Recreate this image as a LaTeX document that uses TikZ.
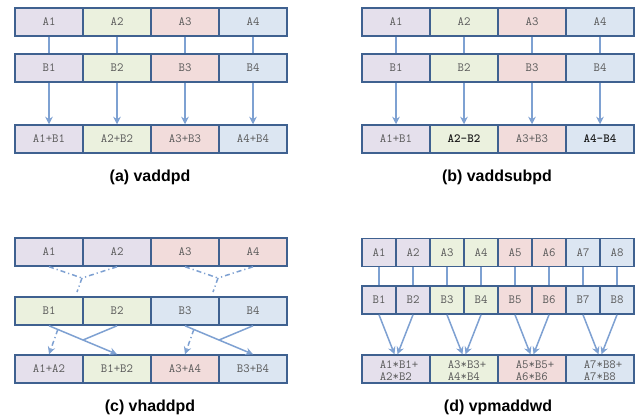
\documentclass[tikz,border=0pt]{standalone}
\usepackage{fontspec}
\newfontfamily\capfont{Liberation Sans}
\usetikzlibrary{arrows.meta,calc}

\definecolor{cellborder}{HTML}{3F6190}
\definecolor{linkblue}{HTML}{7EA1D2}
\definecolor{fillP}{HTML}{E5E0EC}
\definecolor{fillG}{HTML}{EBF1DE}
\definecolor{fillR}{HTML}{F2DCDB}
\definecolor{fillB}{HTML}{DCE6F2}
\definecolor{celltext}{HTML}{595959}
\definecolor{boldtext}{HTML}{1A1A1A}

% two-line product sums, set slightly low and right in their cell
\newcommand\pairtext[2]{\raisebox{-6.25bp}[0pt][0pt]{\hspace*{6bp}{\fontsize{12.5}{11}\selectfont\begin{tabular}{@{}l@{}}#1\\#2\end{tabular}}}}
\newcommand\hl[1]{{\bfseries\color{boldtext}#1}}

\tikzset{
  cell/.style={draw=cellborder, line width=1.5bp, minimum width=68bp,
    minimum height=28bp, inner sep=0pt,
    font=\ttfamily\fontsize{12.5}{14}\selectfont, text=celltext},
  halfcell/.style={cell, minimum width=34bp},
  conn/.style={draw=linkblue, line width=1.5bp},
  arr/.style={conn, -{Stealth[length=7.5bp,width=7.5bp,inset=2.5bp]}},
  dd/.style={conn, dash pattern=on 5bp off 3bp on 1.2bp off 3bp},
  ddarr/.style={dd, -{Stealth[length=7.5bp,width=7.5bp,inset=2.5bp]}},
  caption/.style={font=\capfont\bfseries\fontsize{16}{19}\selectfont, text=black},
}

\begin{document}
\begin{tikzpicture}[x=1bp,y=-1bp]
\fill[white] (0,0) rectangle (637,418);
\useasboundingbox (0,0) rectangle (637,418);

% (a) vaddpd
\foreach \i/\c in {1/fillP,2/fillG,3/fillR,4/fillB} {
  \node[cell, fill=\c] (paA\i) at ({-19+68*\i},22) {A\i};
  \node[cell, fill=\c] (paB\i) at ({-19+68*\i},68) {B\i};
  \node[cell, fill=\c] (paC\i) at ({-19+68*\i},139) {A\i+B\i};
}
\foreach \i in {1,...,4} {
  \draw[conn] (paA\i) -- (paB\i);
  \draw[arr] (paB\i) -- (paC\i);
}
\node[caption] (capa) at (150,177) {(a) vaddpd};

% (b) vaddsubpd
\foreach \i/\c/\t in {1/fillP/{A1+B1},2/fillG/{\hl{A2-B2}},3/fillR/{A3+B3},4/fillB/{\hl{A4-B4}}} {
  \node[cell, fill=\c] (pbA\i) at ({328+68*\i},22) {A\i};
  \node[cell, fill=\c] (pbB\i) at ({328+68*\i},68) {B\i};
  \node[cell, fill=\c] (pbC\i) at ({328+68*\i},139) {\t};
}
\foreach \i in {1,...,4} {
  \draw[conn] (pbA\i) -- (pbB\i);
  \draw[arr] (pbB\i) -- (pbC\i);
}
\node[caption] (capb) at (497,177) {(b) vaddsubpd};

% (c) vhaddpd
\foreach \i/\ca/\cb/\cc/\t in {1/fillP/fillG/fillP/{A1+A2},2/fillP/fillG/fillG/{B1+B2},3/fillR/fillB/fillR/{A3+A4},4/fillR/fillB/fillB/{B3+B4}} {
  \node[cell, fill=\ca] (pcA\i) at ({-19+68*\i},252) {A\i};
  \node[cell, fill=\cb] (pcB\i) at ({-19+68*\i},311) {B\i};
  \node[cell, fill=\cc] (pcC\i) at ({-19+68*\i},369) {\t};
}
% pairs of neighbouring elements merge
\coordinate (pcJ1) at (82,278);
\coordinate (pcK1) at (77,292);
\coordinate (pcJ2) at (218,278);
\coordinate (pcK2) at (213,292);
\draw[dd] (pcA1.south) -- (pcJ1);
\draw[dd] (pcA2.south) -- (pcJ1);
\draw[dd] (pcJ1) -- (pcK1);
\draw[dd] (pcA3.south) -- (pcJ2);
\draw[dd] (pcA4.south) -- (pcJ2);
\draw[dd] (pcJ2) -- (pcK2);
% horizontal sums go to their slots
\draw[arr] (pcB1.south) -- (pcC2.north);
\coordinate (pcX1) at ($(pcB1.south)!0.5!(pcC2.north)$);
\draw[conn] (pcB2.south) -- (pcX1);
\coordinate (pcD1) at ($(pcB1.south)!0.13!(pcC2.north)$);
\draw[ddarr] (pcD1) -- (pcC1.north);
\draw[arr] (pcB3.south) -- (pcC4.north);
\coordinate (pcX2) at ($(pcB3.south)!0.5!(pcC4.north)$);
\draw[conn] (pcB4.south) -- (pcX2);
\coordinate (pcD2) at ($(pcB3.south)!0.13!(pcC4.north)$);
\draw[ddarr] (pcD2) -- (pcC3.north);
\node[caption] (capc) at (150,407) {(c) vhaddpd};

% (d) vpmaddwd
\foreach \i/\c in {1/fillP,2/fillP,3/fillG,4/fillG,5/fillR,6/fillR,7/fillB,8/fillB} {
  \node[halfcell, fill=\c] (pdA\i) at ({345+34*\i},252.5) {A\i};
  \node[halfcell, fill=\c] (pdB\i) at ({345+34*\i},300) {B\i};
  \draw[conn] (pdA\i) -- (pdB\i);
}
\node[cell, fill=fillP] (pdC1) at (396,369) {\pairtext{A1*B1+}{A2*B2}};
\node[cell, fill=fillG] (pdC2) at (464,369) {\pairtext{A3*B3+}{A4*B4}};
\node[cell, fill=fillR] (pdC3) at (532,369) {\pairtext{A5*B5+}{A6*B6}};
\node[cell, fill=fillB] (pdC4) at (600,369) {\pairtext{A7*B8+}{A7*B8}};
\foreach \k [evaluate=\k as \l using int(2*\k-1), evaluate=\k as \r using int(2*\k)] in {1,...,4} {
  \draw[arr] (pdB\l.south) -- ([xshift=-1.5bp]pdC\k.north);
  \draw[arr] (pdB\r.south) -- ([xshift=1.5bp]pdC\k.north);
}
\node[caption] (capd) at (498,407) {(d) vpmaddwd};
\end{tikzpicture}
\end{document}
